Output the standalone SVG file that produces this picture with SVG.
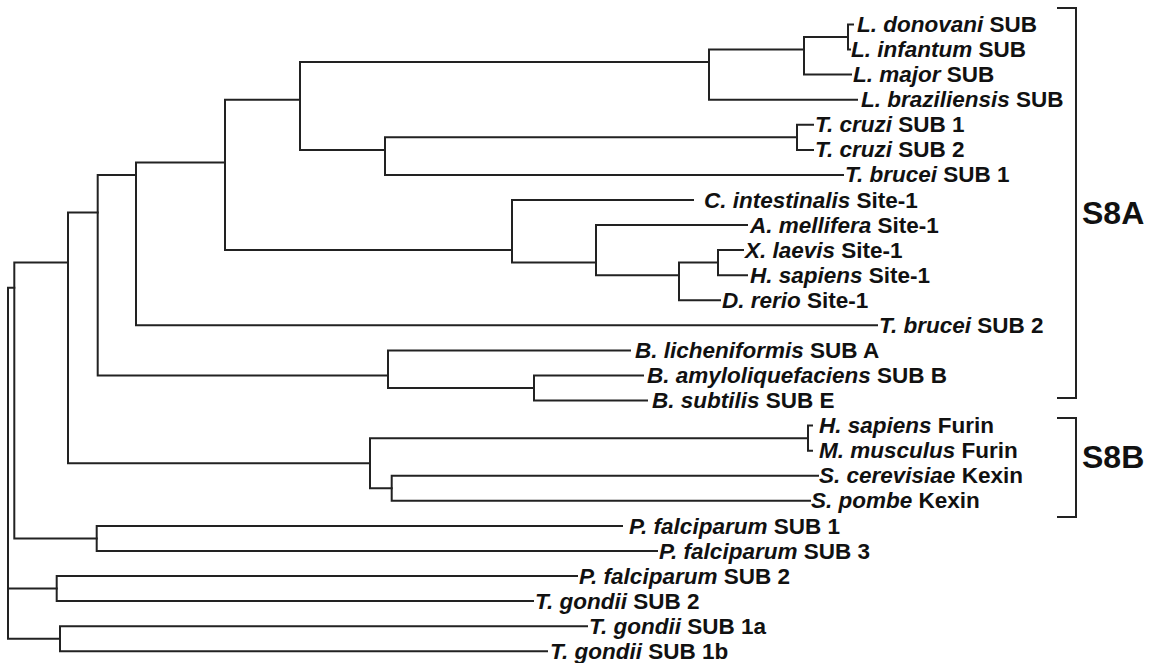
<svg xmlns="http://www.w3.org/2000/svg" width="1158" height="663" viewBox="0 0 1158 663">
<style>
.t{font-family:"Liberation Sans",Arial,Helvetica,sans-serif;font-weight:bold;font-size:22.5px;fill:#111}
.i{font-style:italic}
.e{fill:none;stroke:#222;stroke-width:2;stroke-linecap:square;stroke-linejoin:miter}
.g{font-family:"Liberation Sans",Arial,Helvetica,sans-serif;font-weight:bold;font-size:32px;fill:#111}
</style>
<rect width="1158" height="663" fill="#fff"/>
<g id="connectors">
<path class="e" d="M14.3 287.7 H8 V638.7 H60 M8 588.6 H56.7"/>
<path class="e" d="M68 262.6 H14.3 V538.4 H96.7"/>
<path class="e" d="M97.7 212.5 H68 V463.2 H370"/>
<path class="e" d="M136 174.9 H97.7 V375.5 H388"/>
<path class="e" d="M225 162.4 H136 V325.3 H877"/>
<path class="e" d="M300 99.7 H225 V250.1 H512"/>
<path class="e" d="M709 62.1 H300 V149.9 H385"/>
<path class="e" d="M804 49.6 H709 V99.7 H857"/>
<path class="e" d="M848 37 H804 V74.6 H851"/>
<path class="e" d="M853 24.5 H848 V49.6 H850"/>
<path class="e" d="M797 137.3 H385 V174.9 H843"/>
<path class="e" d="M813 124.8 H797 V149.9 H813"/>
<path class="e" d="M693 200 H512 V262.6 H596"/>
<path class="e" d="M747 225.1 H596 V275.2 H679"/>
<path class="e" d="M718 262.6 H679 V300.3 H720"/>
<path class="e" d="M743 250.1 H718 V275.2 H747"/>
<path class="e" d="M630 350.4 H388 V388 H534"/>
<path class="e" d="M643 375.5 H534 V400.6 H647"/>
<path class="e" d="M808 438.2 H370 V488.3 H391.7"/>
<path class="e" d="M812 425.6 H808 V450.7 H812"/>
<path class="e" d="M818 475.8 H391.7 V500.8 H810"/>
<path class="e" d="M622 525.9 H96.7 V551 H657"/>
<path class="e" d="M577 576 H56.7 V601.1 H533"/>
<path class="e" d="M587 626.2 H60 V651.3 H547"/>
</g>
<g id="brackets">
<path class="e" d="M1058 8 H1076 V398 H1058"/>
<path class="e" d="M1058 418 H1076 V517 H1058"/>
</g>
<g id="group-S8A"><text class="g" x="1082" y="224">S8A</text></g>
<g id="group-S8B"><text class="g" x="1082" y="468">S8B</text></g>
<g id="leaf-ldonovani"><text class="t" x="857" y="32"><tspan class="i">L. donovani</tspan> SUB</text></g>
<g id="leaf-linfantum"><text class="t" x="851" y="57"><tspan class="i">L. infantum</tspan> SUB</text></g>
<g id="leaf-lmajor"><text class="t" x="853" y="82"><tspan class="i">L. major</tspan> SUB</text></g>
<g id="leaf-lbraziliensis"><text class="t" x="861" y="107"><tspan class="i">L. braziliensis</tspan> SUB</text></g>
<g id="leaf-tcruzi1"><text class="t" x="815" y="132"><tspan class="i">T. cruzi</tspan> SUB 1</text></g>
<g id="leaf-tcruzi2"><text class="t" x="815" y="157"><tspan class="i">T. cruzi</tspan> SUB 2</text></g>
<g id="leaf-tbrucei1"><text class="t" x="845" y="182"><tspan class="i">T. brucei</tspan> SUB 1</text></g>
<g id="leaf-cintestinalis"><text class="t" x="704" y="207.5"><tspan class="i">C. intestinalis</tspan> Site-1</text></g>
<g id="leaf-amellifera"><text class="t" x="750" y="232.5"><tspan class="i">A. mellifera</tspan> Site-1</text></g>
<g id="leaf-xlaevis"><text class="t" x="745" y="257.5"><tspan class="i">X. laevis</tspan> Site-1</text></g>
<g id="leaf-hsapiens-site1"><text class="t" x="750" y="282.5"><tspan class="i">H. sapiens</tspan> Site-1</text></g>
<g id="leaf-drerio"><text class="t" x="722" y="307.5"><tspan class="i">D. rerio</tspan> Site-1</text></g>
<g id="leaf-tbrucei2"><text class="t" x="879" y="332.5"><tspan class="i">T. brucei</tspan> SUB 2</text></g>
<g id="leaf-blicheniformis"><text class="t" x="635" y="358"><tspan class="i">B. licheniformis</tspan> SUB A</text></g>
<g id="leaf-bamyloliquefaciens"><text class="t" x="647" y="383"><tspan class="i">B. amyloliquefaciens</tspan> SUB B</text></g>
<g id="leaf-bsubtilis"><text class="t" x="652" y="408"><tspan class="i">B. subtilis</tspan> SUB E</text></g>
<g id="leaf-hsapiens-furin"><text class="t" x="819" y="433"><tspan class="i">H. sapiens</tspan> Furin</text></g>
<g id="leaf-mmusculus"><text class="t" x="819" y="458"><tspan class="i">M. musculus</tspan> Furin</text></g>
<g id="leaf-scerevisiae"><text class="t" x="819" y="483"><tspan class="i">S. cerevisiae</tspan> Kexin</text></g>
<g id="leaf-spombe"><text class="t" x="811" y="508"><tspan class="i">S. pombe</tspan> Kexin</text></g>
<g id="leaf-pfalciparum1"><text class="t" x="629" y="533.5"><tspan class="i">P. falciparum</tspan> SUB 1</text></g>
<g id="leaf-pfalciparum3"><text class="t" x="659" y="558.5"><tspan class="i">P. falciparum</tspan> SUB 3</text></g>
<g id="leaf-pfalciparum2"><text class="t" x="579" y="583.5"><tspan class="i">P. falciparum</tspan> SUB 2</text></g>
<g id="leaf-tgondii2"><text class="t" x="535" y="608.5"><tspan class="i">T. gondii</tspan> SUB 2</text></g>
<g id="leaf-tgondii1a"><text class="t" x="589" y="633.5"><tspan class="i">T. gondii</tspan> SUB 1a</text></g>
<g id="leaf-tgondii1b"><text class="t" x="550" y="658.5"><tspan class="i">T. gondii</tspan> SUB 1b</text></g>
</svg>
